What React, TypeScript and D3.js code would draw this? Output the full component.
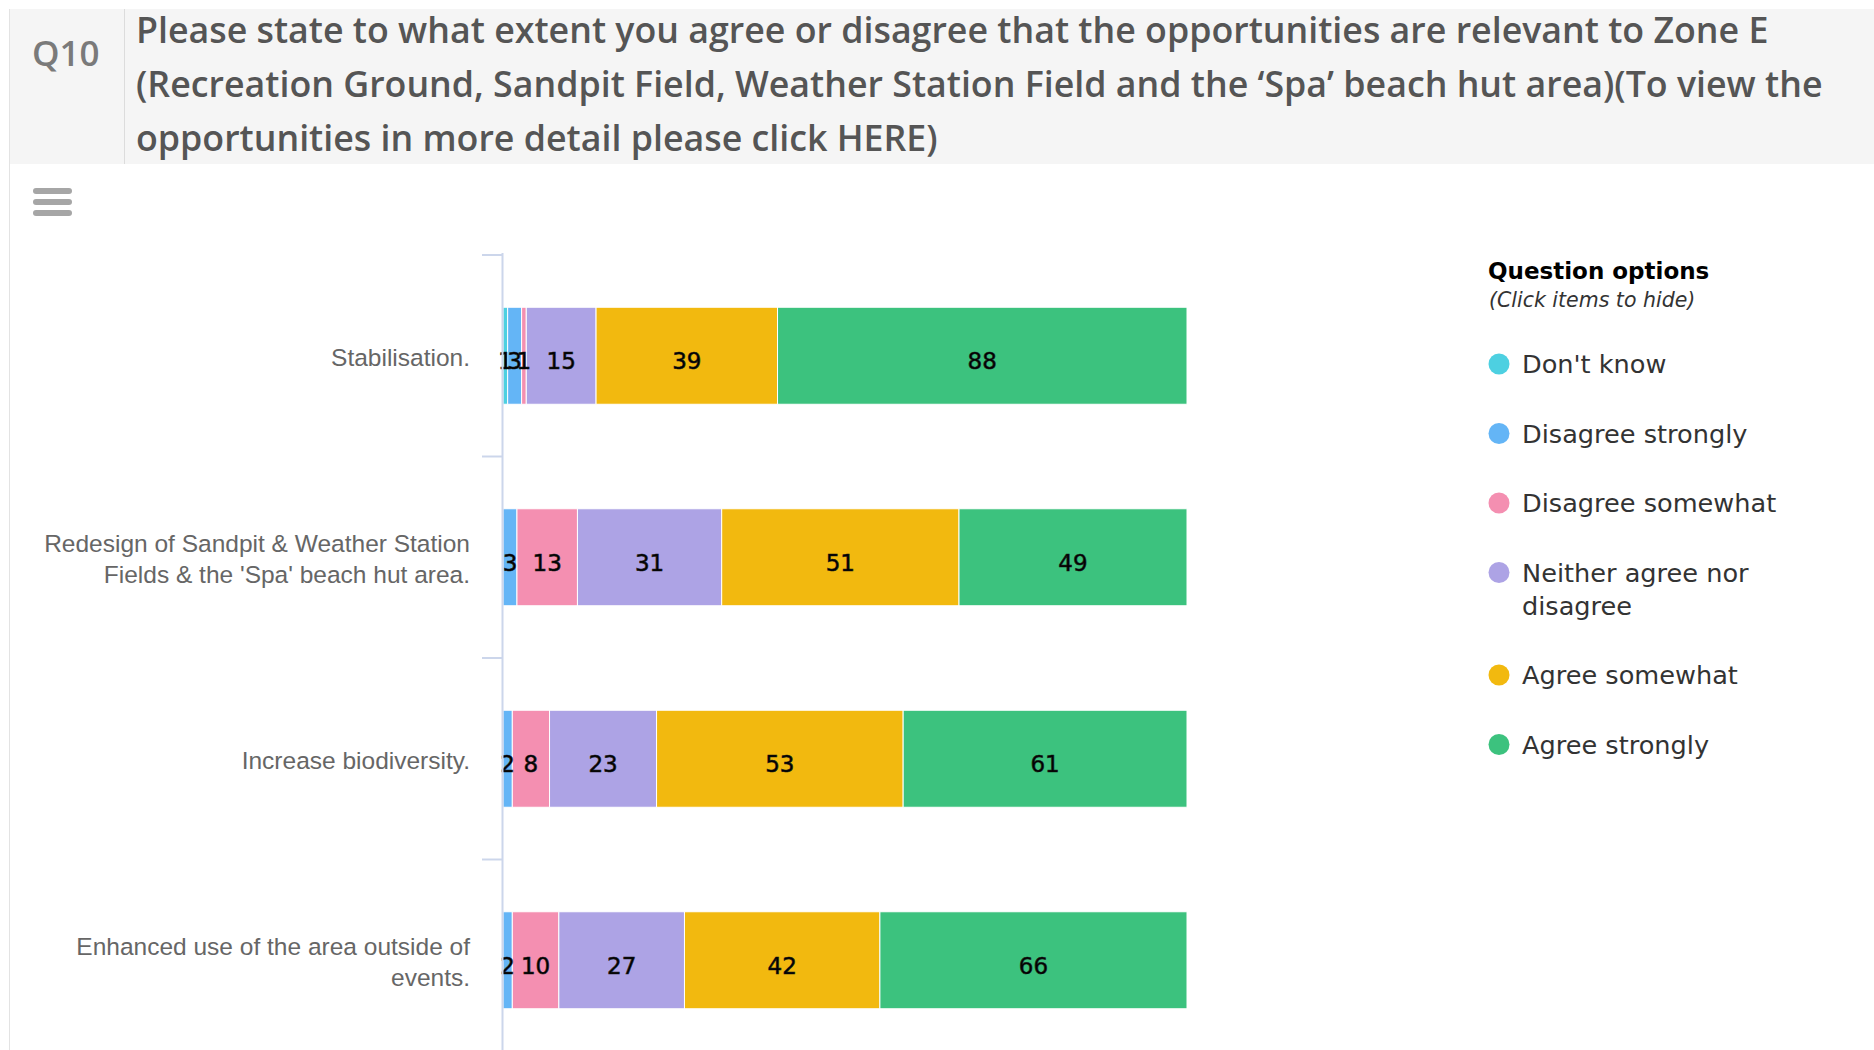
import React from 'react';
import * as d3 from 'd3';

const categories = [
  'Stabilisation.',
  "Redesign of Sandpit & Weather Station Fields & the 'Spa' beach hut area.",
  'Increase biodiversity.',
  'Enhanced use of the area outside of events.',
];
const categoryLines = [
  ['Stabilisation.'],
  ['Redesign of Sandpit & Weather Station', "Fields & the 'Spa' beach hut area."],
  ['Increase biodiversity.'],
  ['Enhanced use of the area outside of', 'events.'],
];

const seriesNames = [
  "Don't know",
  'Disagree strongly',
  'Disagree somewhat',
  'Neither agree nor disagree',
  'Agree somewhat',
  'Agree strongly',
];
const legendLines = [
  ["Don't know"],
  ['Disagree strongly'],
  ['Disagree somewhat'],
  ['Neither agree nor', 'disagree'],
  ['Agree somewhat'],
  ['Agree strongly'],
];
const seriesColors = ['#4dd0e1', '#64b5f6', '#f48fb1', '#ada3e5', '#f2b90f', '#3cc27e'];

const dontKnow = [1, 0, 0, 0];
const disagreeStrongly = [3, 3, 2, 2];
const disagreeSomewhat = [1, 13, 8, 10];
const neither = [15, 31, 23, 27];
const agreeSomewhat = [39, 51, 53, 42];
const agreeStrongly = [88, 49, 61, 66];

const titleLines = [
  'Please state to what extent you agree or disagree that the opportunities are relevant to Zone E',
  '(Recreation Ground, Sandpit Field, Weather Station Field and the \u2018Spa\u2019 beach hut area)(To view the',
  'opportunities in more detail please click HERE)',
];

const W = 1874;
const H = 1050;

const App = () => {
  const allSeries = [dontKnow, disagreeStrongly, disagreeSomewhat, neither, agreeSomewhat, agreeStrongly];
  const rows = categories.map((c, i) => {
    const r: any = { cat: c };
    seriesNames.forEach((s, j) => (r[s] = allSeries[j][i]));
    return r;
  });
  const stacked = d3.stack().keys(seriesNames)(rows);
  const maxTotal = d3.max(rows, (r: any) => d3.sum(seriesNames, (s) => r[s])) as number;

  const plotLeft = 502;
  const xScale = d3.scaleLinear().domain([0, maxTotal]).range([plotLeft + 1, 1187]);
  const yScale = d3.scaleBand().domain(categories).range([255, 255 + 4 * 201.5]).padding(0);
  const barH = 97;

  const axisColor = '#ccd6eb';

  return (
    <div style={{ position: 'absolute', left: 0, top: 0 }}>
      <svg width={W} height={H} style={{ display: 'block' }}>
        <rect x={0} y={0} width={W} height={H} fill="#ffffff" />
        {/* page border and header */}
        <line x1={9.5} x2={9.5} y1={9} y2={H} stroke="#e3e3e3" />
        <rect x={10} y={9} width={W - 10} height={155} fill="#f5f5f5" />
        <line x1={124.5} x2={124.5} y1={9} y2={164} stroke="#dcdcdc" />
        <text x={32} y={66} fontFamily="'Open Sans', sans-serif" fontWeight={600} fontSize={35} fill="#7a7a7a">
          Q10
        </text>
        {titleLines.map((t, i) => (
          <text key={i} x={136} y={43 + i * 54} fontFamily="'Open Sans', sans-serif" fontWeight={600} fontSize={35.75} fill="#555555">
            {t}
          </text>
        ))}

        {/* menu icon */}
        {[0, 1, 2].map((i) => (
          <rect key={i} x={33} y={188 + i * 11} width={39} height={6} rx={3} fill="#a6a6a6" />
        ))}

        {/* bars */}
        {stacked.map((s, si) => (
          <g key={s.key} fill={seriesColors[si]}>
            {s.map((d: any, di) =>
              d[1] - d[0] > 0 ? (
                <rect
                  key={di}
                  x={xScale(d[0])}
                  y={(yScale(categories[di]) as number) + (yScale.bandwidth() - barH) / 2}
                  width={xScale(d[1]) - xScale(d[0])}
                  height={barH}
                  stroke="#ffffff"
                  strokeWidth={1}
                />
              ) : null
            )}
          </g>
        ))}

        {/* data labels */}
        {stacked.map((s) =>
          s.map((d: any, di) =>
            d[1] - d[0] > 0 ? (
              <text
                key={`${s.key}-${di}`}
                x={(xScale(d[0]) + xScale(d[1])) / 2}
                y={(yScale(categories[di]) as number) + yScale.bandwidth() / 2 + 5}
                dy="0.36em"
                textAnchor="middle"
                fontFamily="'DejaVu Sans', Verdana, sans-serif"
                fontSize={23}
                fill="#000000"
                stroke="#1a1a1a"
                strokeWidth={0.6}
              >
                {d[1] - d[0]}
              </text>
            ) : null
          )
        )}

        {/* category axis */}
        <line x1={plotLeft + 0.5} x2={plotLeft + 0.5} y1={253} y2={H} stroke={axisColor} strokeWidth={2} />
        {[...categories.map((c) => yScale(c) as number), 255 + 4 * 201.5].map((y, i) => (
          <line key={i} x1={482} x2={plotLeft} y1={y} y2={y} stroke={axisColor} strokeWidth={2} />
        ))}
        {categoryLines.map((lines, i) => {
          const cy = (yScale(categories[i]) as number) + yScale.bandwidth() / 2 + 2;
          const lh = 31;
          const start = cy - ((lines.length - 1) * lh) / 2;
          return (
            <text
              key={i}
              textAnchor="end"
              fontFamily="'Liberation Sans', Arial, sans-serif"
              fontSize={24.5}
              fill="#666666"
            >
              {lines.map((l, li) => (
                <tspan key={li} x={470} y={start + li * lh} dy="0.35em">
                  {l}
                </tspan>
              ))}
            </text>
          );
        })}

        {/* legend */}
        <text x={1488} y={279} fontFamily="'DejaVu Sans', Verdana, sans-serif" fontWeight="bold" fontSize={23} fill="#000000">
          Question options
        </text>
        <text x={1489} y={307} fontFamily="'DejaVu Sans', Verdana, sans-serif" fontStyle="italic" fontSize={20.5} fill="#333333">
          (Click items to hide)
        </text>
        {(() => {
          let y = 364;
          return legendLines.map((lines, i) => {
            const cy = y;
            y += 69.5 + (lines.length - 1) * 33;
            return (
              <g key={i}>
                <circle cx={1499} cy={cy} r={10.5} fill={seriesColors[i]} />
                <text fontFamily="'DejaVu Sans', Verdana, sans-serif" fontSize={25.6} fill="#333333">
                  {lines.map((l, li) => (
                    <tspan key={li} x={1522} y={cy + li * 33} dy="0.36em">
                      {l}
                    </tspan>
                  ))}
                </text>
              </g>
            );
          });
        })()}
      </svg>
    </div>
  );
};

export default App;
